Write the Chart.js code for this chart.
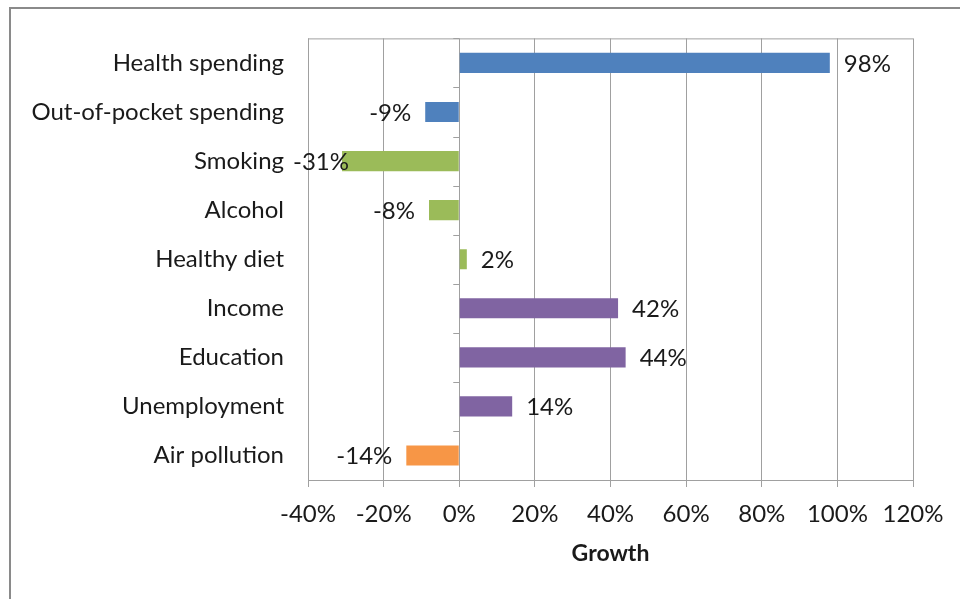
<!DOCTYPE html>
<html>
<head>
<meta charset="utf-8">
<script src="https://cdn.jsdelivr.net/npm/chart.js@4/dist/chart.umd.min.js"></script>
<style>
  html, body { margin: 0; padding: 0; background: #fff; overflow: hidden; }
  #wrap { position: relative; width: 960px; height: 599px; }
  #frame { position: absolute; left: 9px; top: 7px; width: 1000px; height: 700px; border: 2px solid #8a8a8a; pointer-events: none; }
</style>
</head>
<body>
<div id="wrap">
  <canvas id="chart" width="960" height="599"></canvas>
  <div id="frame"></div>
</div>
<script>
// Data
const categories = ['Health spending', 'Out-of-pocket spending', 'Smoking', 'Alcohol', 'Healthy diet', 'Income', 'Education', 'Unemployment', 'Air pollution'];
const growth = [98, -9, -31, -8, 2, 42, 44, 14, -14];
const barColors = ['#4f81bd', '#4f81bd', '#9bbb59', '#9bbb59', '#9bbb59', '#8064a2', '#8064a2', '#8064a2', '#f79646'];
const xTicks = [-40, -20, 0, 20, 40, 60, 80, 100, 120];

const FONT = 'Lato, "Open Sans", sans-serif';
const FS = 24;
const TEXT = '#1a1a1a';
const GRID = '#a0a0a0';

// Outside-end value labels, plot box top line and the little ticks on the 0% axis
const extrasPlugin = {
    id: 'extras',
    afterDatasetsDraw(chart) {
        const ctx = chart.ctx;
        const area = chart.chartArea;
        const x = chart.scales.x;
        const x0 = x.getPixelForValue(0);

        ctx.save();
        ctx.strokeStyle = GRID;
        ctx.lineWidth = 1;
        ctx.beginPath();
        ctx.moveTo(area.left, area.top + 0.5);
        ctx.lineTo(area.right, area.top + 0.5);
        for (let i = 0; i <= categories.length; i++) {
            const yy = Math.round(area.top + (area.bottom - area.top) * i / categories.length) + 0.5;
            ctx.moveTo(x0 - 6, yy);
            ctx.lineTo(x0, yy);
        }
        ctx.stroke();

        ctx.font = FS + 'px ' + FONT;
        ctx.fillStyle = TEXT;
        ctx.textBaseline = 'middle';
        chart.getDatasetMeta(0).data.forEach((bar, i) => {
            const v = growth[i];
            const label = v + '%';
            if (v >= 0) {
                ctx.textAlign = 'left';
                ctx.fillText(label, bar.x + 14, bar.y + 1);
            } else {
                const w = ctx.measureText(label).width;
                let right = bar.x - 14;
                if (right - w < area.left - 15) right = area.left - 15 + w;
                ctx.textAlign = 'right';
                ctx.fillText(label, right, bar.y + 1);
            }
        });
        ctx.restore();
    }
};

new Chart(document.getElementById('chart'), {
    type: 'bar',
    data: {
        labels: categories,
        datasets: [{
            data: growth,
            backgroundColor: barColors,
            borderWidth: 0,
            categoryPercentage: 1,
            barPercentage: 0.41
        }]
    },
    options: {
        indexAxis: 'y',
        responsive: false,
        animation: false,
        events: [],
        layout: { padding: { top: 36, right: 47, bottom: 32, left: 0 } },
        plugins: {
            legend: { display: false },
            tooltip: { enabled: false }
        },
        scales: {
            x: {
                min: -40,
                max: 120,
                afterBuildTicks(scale) {
                    scale.ticks = xTicks.map(v => ({ value: v }));
                },
                afterFit(scale) { scale.height = 87; },
                grid: { color: GRID, lineWidth: 1, tickLength: 7, tickColor: GRID },
                border: { color: GRID, width: 1 },
                ticks: {
                    color: TEXT,
                    font: { family: FONT, size: FS },
                    padding: 13,
                    callback: v => v + '%'
                },
                title: {
                    display: true,
                    text: 'Growth',
                    color: TEXT,
                    font: { family: FONT, size: 23, weight: 'bold' },
                    padding: { top: 8, bottom: 0 }
                }
            },
            y: {
                afterFit(scale) { scale.width = 308; },
                grid: { display: false, drawTicks: false },
                border: { display: false },
                ticks: {
                    color: TEXT,
                    font: { family: FONT, size: FS },
                    padding: 24
                }
            }
        }
    },
    plugins: [extrasPlugin]
});
</script>
</body>
</html>
